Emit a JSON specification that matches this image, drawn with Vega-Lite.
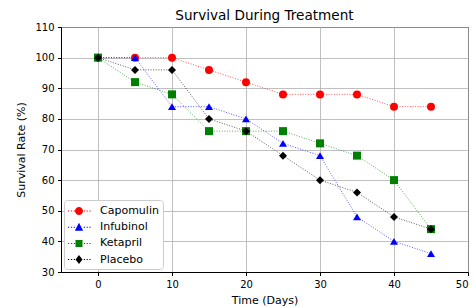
{
  "$schema": "https://vega.github.io/schema/vega-lite/v6.json",
  "width": 407,
  "height": 245,
  "autosize": "none",
  "padding": {"left": 61, "top": 27, "right": 6, "bottom": 35},
  "background": "white",
  "title": {"text": "Survival During Treatment", "fontSize": 13.6, "font": "DejaVu Sans", "fontWeight": "normal", "color": "black", "offset": -1},
  "data": {"values": [
    {"drug": "Capomulin", "day": 0, "rate": 100},
    {"drug": "Capomulin", "day": 5, "rate": 100},
    {"drug": "Capomulin", "day": 10, "rate": 100},
    {"drug": "Capomulin", "day": 15, "rate": 96},
    {"drug": "Capomulin", "day": 20, "rate": 92},
    {"drug": "Capomulin", "day": 25, "rate": 88},
    {"drug": "Capomulin", "day": 30, "rate": 88},
    {"drug": "Capomulin", "day": 35, "rate": 88},
    {"drug": "Capomulin", "day": 40, "rate": 84},
    {"drug": "Capomulin", "day": 45, "rate": 84},
    {"drug": "Infubinol", "day": 0, "rate": 100},
    {"drug": "Infubinol", "day": 5, "rate": 100},
    {"drug": "Infubinol", "day": 10, "rate": 84},
    {"drug": "Infubinol", "day": 15, "rate": 84},
    {"drug": "Infubinol", "day": 20, "rate": 80},
    {"drug": "Infubinol", "day": 25, "rate": 72},
    {"drug": "Infubinol", "day": 30, "rate": 68},
    {"drug": "Infubinol", "day": 35, "rate": 48},
    {"drug": "Infubinol", "day": 40, "rate": 40},
    {"drug": "Infubinol", "day": 45, "rate": 36},
    {"drug": "Ketapril", "day": 0, "rate": 100},
    {"drug": "Ketapril", "day": 5, "rate": 92},
    {"drug": "Ketapril", "day": 10, "rate": 88},
    {"drug": "Ketapril", "day": 15, "rate": 76},
    {"drug": "Ketapril", "day": 20, "rate": 76},
    {"drug": "Ketapril", "day": 25, "rate": 76},
    {"drug": "Ketapril", "day": 30, "rate": 72},
    {"drug": "Ketapril", "day": 35, "rate": 68},
    {"drug": "Ketapril", "day": 40, "rate": 60},
    {"drug": "Ketapril", "day": 45, "rate": 44},
    {"drug": "Placebo", "day": 0, "rate": 100},
    {"drug": "Placebo", "day": 5, "rate": 96},
    {"drug": "Placebo", "day": 10, "rate": 96},
    {"drug": "Placebo", "day": 15, "rate": 80},
    {"drug": "Placebo", "day": 20, "rate": 76},
    {"drug": "Placebo", "day": 25, "rate": 68},
    {"drug": "Placebo", "day": 30, "rate": 60},
    {"drug": "Placebo", "day": 35, "rate": 56},
    {"drug": "Placebo", "day": 40, "rate": 48},
    {"drug": "Placebo", "day": 45, "rate": 44}
  ]},
  "encoding": {
    "x": {"field": "day", "type": "quantitative", "scale": {"domain": [-5, 50], "nice": false, "zero": false},
      "axis": {"values": [0, 10, 20, 30, 40, 50], "title": "Time (Days)"}},
    "y": {"field": "rate", "type": "quantitative", "scale": {"domain": [30, 110], "nice": false, "zero": false},
      "axis": {"values": [30, 40, 50, 60, 70, 80, 90, 100, 110], "title": "Survival Rate (%)"}},
    "color": {"field": "drug", "type": "nominal",
      "scale": {"domain": ["Capomulin", "Infubinol", "Ketapril", "Placebo"], "range": ["#ff0000", "#0000ff", "#008000", "#000000"]},
      "legend": {"title": null, "orient": "bottom-left", "offset": 3,
        "encode": {"symbols": {"update": {
          "shape": {"signal": "(datum.value === 'Capomulin' ? 'M0,0A0.571,0.571 0 1,0 1.143,0A0.571,0.571 0 1,0 0,0Z' : datum.value === 'Infubinol' ? 'M0.571,-0.643L1.171,0.5L-0.029,0.5Z' : datum.value === 'Ketapril' ? 'M0.071,-0.5H1.071V0.5H0.071Z' : 'M0.571,-0.643L1.071,0L0.571,0.643L0.071,0Z') + 'M-1,-0.071h0.171v0.143h-0.171zM-0.571,-0.071h0.171v0.143h-0.171zM-0.171,-0.071h0.171v0.143h-0.171zM1.257,-0.071h0.171v0.143h-0.171zM1.657,-0.071h0.171v0.143h-0.171zM2.057,-0.071h0.171v0.143h-0.171z'"},
          "strokeWidth": {"value": 0},
          "opacity": {"value": 1}
        }}}}}
  },
  "layer": [
    {"mark": {"type": "line", "strokeDash": [1, 1.6], "strokeWidth": 1, "opacity": 0.65}},
    {"mark": {"type": "point", "filled": true, "size": 64, "opacity": 1},
     "encoding": {"shape": {"condition": [
        {"test": "datum.drug === 'Capomulin'", "value": "circle"},
        {"test": "datum.drug === 'Infubinol'", "value": "triangle-up"},
        {"test": "datum.drug === 'Ketapril'", "value": "square"}
       ], "value": "diamond"}}}
  ],
  "config": {
    "font": "DejaVu Sans",
    "view": {"stroke": "black", "strokeWidth": 1},
    "axis": {
      "labelFont": "DejaVu Sans", "labelFontSize": 10, "labelColor": "black",
      "titleFont": "DejaVu Sans", "titleFontSize": 11, "titleFontWeight": "normal", "titleColor": "black",
      "domainColor": "black", "tickColor": "black", "tickSize": 3.5,
      "gridColor": "#b0b0b0", "gridWidth": 0.8, "gridOpacity": 1,
      "labelPadding": 3.5
    },
    "axisX": {"titlePadding": 5},
    "axisY": {"titlePadding": 8},
    "legend": {
      "labelFont": "DejaVu Sans", "labelFontSize": 11, "labelColor": "black",
      "strokeColor": "#cccccc", "fillColor": "white", "cornerRadius": 3, "padding": 4,
      "symbolSize": 196, "symbolOpacity": 1, "rowPadding": 4.2, "labelOffset": 18
    }
  }
}
